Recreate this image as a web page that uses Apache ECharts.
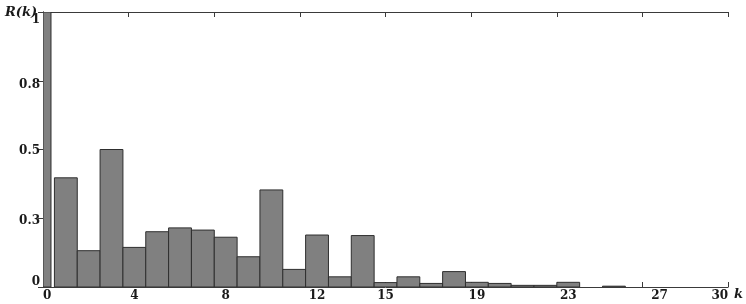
<!DOCTYPE html>
<html>
<head>
<meta charset="utf-8">
<script src="https://cdn.jsdelivr.net/npm/echarts@6/dist/echarts.min.js"></script>
<style>html,body{margin:0;padding:0;background:#fff;}#c{width:746px;height:304px;}</style>
</head>
<body>
<div id="c"></div>
<script>
// lag k and autocorrelation value R(k)
var lags = [0,1,2,3,4,5,6,7,8,9,10,11,12,13,14,15,16,17,18,19,20,21,22,23,24,25,26,27,28,29,30];
var rValues = [1.0,0.397,0.132,0.50,0.144,0.201,0.215,0.207,0.181,0.110,0.353,0.064,0.189,0.037,0.187,0.016,0.037,0.013,0.056,0.017,0.013,0.006,0.006,0.017,0,0.003,0,0,0,0,0];
var xTickLabels = [0,4,8,12,15,19,23,27,30];
var yTickLabels = ['0','0.3','0.5','0.8','1'];

var xMin = 0, xMax = 30, xInterval = 3.75;
var font = 'DejaVu Serif';
var ink = '#1a1a1a';
var data = lags.map(function (k, i) { return [k, rValues[i]]; });

// small vertical nudges of the y labels, as in the reference
var yLabelRich = {
  a: {padding: [16, 0, 0, 0]},
  b: {padding: [8, 0, 0, 0]},
  c: {padding: [3, 0, 0, 0]},
  d: {padding: [6, 0, 0, 0]},
  e: {padding: [0, 0, 11, 0]}
};
var yLabelKey = ['e', 'd', 'c', 'b', 'a'];
var labelText = {fontFamily: font, fontWeight: 'bold', fontSize: 12, color: ink};
Object.keys(yLabelRich).forEach(function (key) { Object.assign(yLabelRich[key], labelText); });

var chart = echarts.init(document.getElementById('c'), null, {renderer: 'canvas'});
var axisLine = {show: true, lineStyle: {color: '#3a3a3a', width: 1}};
chart.setOption({
  animation: false,
  backgroundColor: '#fff',
  title: {
    text: 'R(k)', left: 0, top: 1,
    textStyle: {fontFamily: font, fontStyle: 'italic', fontWeight: 'bold', fontSize: 13, color: ink}
  },
  grid: {left: 43, right: 16, top: 12, bottom: 17, containLabel: false},
  xAxis: [{
    type: 'value', min: xMin, max: xMax, interval: xInterval, position: 'bottom',
    axisLine: axisLine,
    axisTick: {show: true, inside: true, length: 5, lineStyle: {color: '#3a3a3a'}},
    axisLabel: {show: false},
    splitLine: {show: false}
  }, {
    type: 'value', min: xMin, max: xMax, position: 'bottom',
    name: 'k', nameLocation: 'end', nameGap: 2,
    nameTextStyle: {fontFamily: font, fontStyle: 'italic', fontWeight: 'bold', fontSize: 13, color: ink, verticalAlign: 'top', padding: [1,0,0,0]},
    axisLine: {show: false},
    axisTick: {show: false},
    axisLabel: {show: true, customValues: xTickLabels, margin: 3, fontFamily: font, fontWeight: 'bold', fontSize: 12, color: ink,
      alignMinLabel: 'left', alignMaxLabel: 'right',
      formatter: function (v) { return String(Math.round(v)); }},
    splitLine: {show: false}
  }, {
    type: 'value', min: xMin, max: xMax, interval: xInterval, position: 'top',
    axisLine: axisLine,
    axisTick: {show: true, inside: true, length: 5, lineStyle: {color: '#3a3a3a'}},
    axisLabel: {show: false}, splitLine: {show: false}
  }],
  yAxis: [{
    type: 'value', min: 0, max: 1, interval: 0.25, position: 'left',
    axisLine: axisLine,
    axisTick: {show: false},
    axisLabel: {show: true, margin: 3, fontFamily: font, fontWeight: 'bold', fontSize: 12, color: ink,
      rich: yLabelRich,
      formatter: function (v) {
        var i = Math.round(v / 0.25);
        return '{' + yLabelKey[i] + '|' + yTickLabels[i] + '}';
      }},
    splitLine: {show: false}
  }, {
    type: 'value', min: 0, max: 1, interval: 0.25, position: 'right',
    axisLine: axisLine,
    axisTick: {show: true, inside: true, length: 5, lineStyle: {color: '#3a3a3a'}},
    axisLabel: {show: false}, splitLine: {show: false}
  }],
  series: [{
    type: 'custom',
    xAxisIndex: 0,
    yAxisIndex: 0,
    clip: true,
    z: 5,
    data: data,
    renderItem: function (params, api) {
      var k = api.value(0), v = api.value(1);
      if (!(v > 0)) return null;
      var left = k - 0.5, right = k + 0.5;
      if (left < xMin) { left = xMin; right = k + 0.35; }
      var p0 = api.coord([left, 0]);
      var p1 = api.coord([right, v]);
      return {
        type: 'rect',
        shape: {x: p0[0], y: p1[1], width: p1[0] - p0[0], height: p0[1] - p1[1]},
        style: {fill: '#808080', stroke: '#2e2e2e', lineWidth: 1}
      };
    }
  }]
});
</script>
</body>
</html>
